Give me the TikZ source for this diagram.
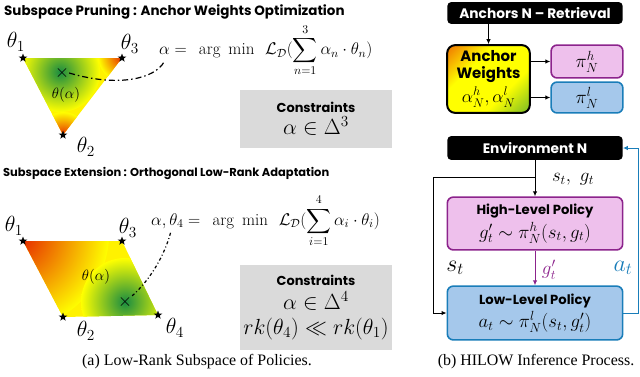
\RequirePackage{fix-cm}
\documentclass[tikz,border=0pt]{standalone}
\usepackage{exscale}
\usepackage{fontspec}
\newfontfamily\headfont{Poppins}
\newfontfamily\capfont{Liberation Serif}
\usetikzlibrary{arrows.meta,shapes.geometric,positioning}
\definecolor{blobgreen}{RGB}{25,140,65}
\definecolor{hotred}{RGB}{228,20,0}
\definecolor{hiborder}{RGB}{140,35,140}
\definecolor{hifill}{RGB}{238,192,236}
\definecolor{loborder}{RGB}{25,125,185}
\definecolor{lofill}{RGB}{165,200,235}
\definecolor{boxgray}{RGB}{218,218,218}
\pgfdeclarehorizontalshading{rygshade}{100bp}{color(0bp)=(hotred); color(36bp)=(yellow); color(64bp)=(yellow); color(100bp)=(blobgreen)}
\newcommand\hf[2]{{\headfont\bfseries\fontsize{#1}{#1}\selectfont #2}}
\tikzset{
  head/.style={anchor=west, inner sep=0},
  anchorstar/.style={star, star points=5, star point ratio=2.4, fill=black, inner sep=0, minimum size=9},
  thlabel/.style={font=\fontsize{22}{22}\selectfont, inner sep=0},
  eqn/.style={anchor=west, inner sep=0, font=\fontsize{17}{19}\selectfont},
  conbox/.style={fill=boxgray, minimum width=152, align=center, inner sep=0},
  capt/.style={font=\capfont\fontsize{16}{18}\selectfont, inner sep=0},
  blackbox/.style={fill=black, rounded corners=4, text=white, minimum width=176,
    font=\headfont\bfseries\fontsize{13.8}{15}\selectfont},
  hbox/.style={draw=hiborder, fill=hifill, line width=1.6, rounded corners=6, align=center},
  lbox/.style={draw=loborder, fill=lofill, line width=1.6, rounded corners=6, align=center},
  flow/.style={-{Latex[length=5pt,width=4.5pt]}, line width=1}
}
\begin{document}
\begin{tikzpicture}[x=1bp,y=-1bp]
\useasboundingbox (0,0) rectangle (640,376);

% ---- (a) subspace pruning
\node[head, font=\headfont\bfseries\fontsize{13.5}{15}\selectfont] (headA) at (4,12) {Subspace Pruning : Anchor Weights Optimization};
\begin{scope}
  \clip (23,58) -- (122,58) -- (63,135) -- cycle;
  \fill[yellow] (20,55) rectangle (125,138);
  \shade[inner color=hotred, outer color=yellow] (124,56) circle (26);
  \shade[inner color=hotred, outer color=yellow] (63,138) circle (26);
  \shade[inner color=blobgreen, outer color=yellow] (60,72) circle (40);
\end{scope}
\node[anchorstar] (sa1) at (23,58) {};
\node[anchorstar] (sa3) at (122,58) {};
\node[anchorstar] (sa2) at (63,135) {};
\node[thlabel] (ta1) at (16,42) {$\theta_1$};
\node[thlabel] (ta3) at (130,44) {$\theta_3$};
\node[thlabel] (ta2) at (86,147) {$\theta_2$};
\node[font=\fontsize{18}{18}\selectfont, inner sep=0] (xa) at (62,73) {$\times$};
\node[font=\fontsize{15}{15}\selectfont, inner sep=0] (tha) at (66,95) {$\theta(\alpha)$};
\node[eqn] (eqA) at (159,50) {$\displaystyle \alpha =\;\, \arg\ \min\ \, \mathcal{L}_{\mathcal{D}}(\sum_{n=1}^{3} \alpha_n \cdot \theta_n)$};
\coordinate (endA) at (164,62);
\draw[line width=1.2, dash pattern=on 6pt off 3pt on 1.5pt off 3pt] (xa.east) .. controls (120,88) and (155,78) .. (endA);
\node[conbox, minimum height=58] (conA) at (316,119) {\hf{13}{Constraints}\\[3pt]{\fontsize{22}{24}\selectfont $\alpha \in \Delta^3$}};

% ---- (a) subspace extension
\node[head, font=\headfont\bfseries\fontsize{11.5}{13}\selectfont] (headB) at (3,173) {Subspace Extension : Orthogonal Low-Rank Adaptation};
\begin{scope}
  \clip (23,241) -- (122,241) -- (158,315) -- (63,317) -- cycle;
  \fill[yellow] (20,238) rectangle (160,320);
  \shade[inner color=hotred, outer color=yellow] (14,234) circle (95);
  \shade[inner color=blobgreen, outer color=yellow] (125,302) circle (44);
\end{scope}
\node[anchorstar] (sb1) at (23,241) {};
\node[anchorstar] (sb3) at (122,241) {};
\node[anchorstar] (sb2) at (63,317) {};
\node[anchorstar] (sb4) at (158,315) {};
\node[thlabel] (tb1) at (14,226) {$\theta_1$};
\node[thlabel] (tb3) at (128,228) {$\theta_3$};
\node[thlabel] (tb2) at (86,331) {$\theta_2$};
\node[thlabel] (tb4) at (175,328) {$\theta_4$};
\node[font=\fontsize{18}{18}\selectfont, inner sep=0] (xb) at (125,302) {$\times$};
\node[font=\fontsize{15}{15}\selectfont, inner sep=0] (thb) at (96,277) {$\theta(\alpha)$};
\node[eqn] (eqB) at (151,221) {$\displaystyle \alpha, \theta_4 =\;\, \arg\ \min\ \, \mathcal{L}_{\mathcal{D}}(\sum_{i=1}^{4} \alpha_i \cdot \theta_i)$};
\coordinate (endB) at (171,231);
\draw[line width=1.2, dash pattern=on 3pt off 2.5pt on 1pt off 2.5pt] (xb.north east) .. controls (150,280) and (165,255) .. (endB);
\node[conbox, minimum height=85] (conB) at (316,307.5) {\hf{13}{Constraints}\\[5pt]{\fontsize{22}{22}\selectfont $\alpha \in \Delta^4$}\\[6pt]{\fontsize{22}{22}\selectfont $rk(\theta_4) \ll rk(\theta_1)$}};
\node[capt] (capA) at (197,362) {(a) Low-Rank Subspace of Policies.};

% ---- (b) HILOW inference
\node[blackbox, minimum height=22] (anchors) at (535,13) {Anchors N – Retrieval};
\node[shade, shading=rygshade, shading angle=-45, draw=black, line width=2, rounded corners=8,
  minimum width=83, minimum height=68, align=center, inner sep=0] (weights) at (488.5,79)
  {\hf{15}{Anchor}\\[4pt]\hf{15}{Weights}\\[3pt]{\fontsize{18}{18}\selectfont $\alpha^h_N, \alpha^l_N$}};
\node[hbox, minimum width=72, minimum height=33] (pih) at (587,61.5) {\fontsize{19}{19}\selectfont $\pi^h_N$};
\node[lbox, minimum width=72, minimum height=31] (pil) at (587,97.5) {\fontsize{19}{19}\selectfont $\pi^l_N$};
\draw[flow] (anchors.south -| weights) -- (weights.north);
\draw[flow] (weights.east |- pih) -- (pih.west);
\draw[flow] (weights.east |- pil) -- (pil.west);

\node[blackbox, minimum height=24] (env) at (535,148) {Environment N};
\node[hbox, minimum width=176, minimum height=53] (high) at (535,223.5)
  {\hf{13.2}{High-Level Policy}\\[3pt]{\fontsize{19}{19}\selectfont $g'_t \sim \pi^h_N(s_t, g_t)$}};
\node[lbox, minimum width=176, minimum height=54] (low) at (535,313)
  {\hf{13.2}{Low-Level Policy}\\[3pt]{\fontsize{19}{19}\selectfont $a_t \sim \pi^l_N(s_t, g'_t)$}};
\coordinate (split) at (535,177);
\draw[flow] (env) -- (high);
\draw[flow] (split) -- ++(-102,0) |- (low.west);
\draw[flow, hiborder] (high) -- (low);
\draw[flow, loborder] (low.east) -- ++(15,0) |- (env.east);
\node[font=\fontsize{19}{19}\selectfont, inner sep=0] (lsg) at (573,179) {$s_t,\ g_t$};
\node[font=\fontsize{24}{24}\selectfont, inner sep=0] (lst) at (455,268) {$s_t$};
\node[font=\fontsize{19}{19}\selectfont, text=hiborder, inner sep=0] (lgp) at (549,270) {$g'_t$};
\node[font=\fontsize{24}{24}\selectfont, text=loborder, inner sep=0] (lat) at (623,268) {$a_t$};
\node[capt] (capB) at (536,362) {(b) HILOW Inference Process.};
\end{tikzpicture}
\end{document}
